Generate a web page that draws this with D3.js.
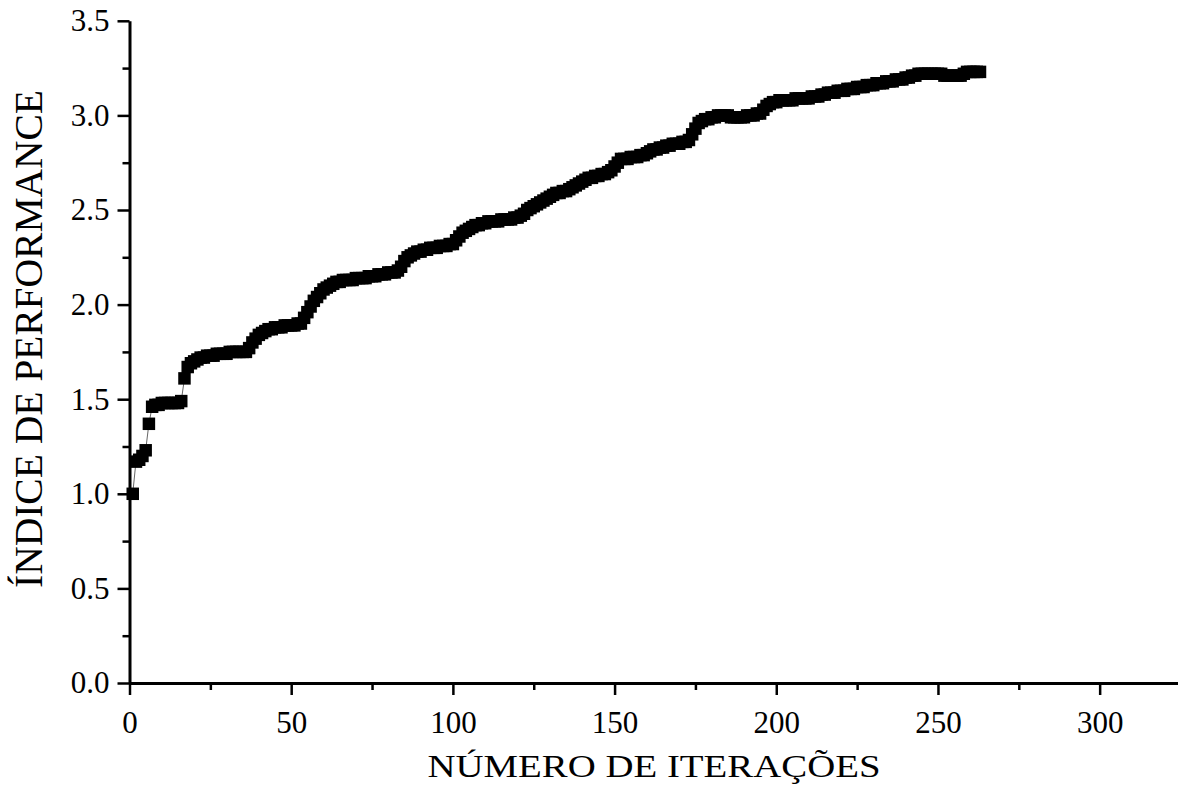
<!DOCTYPE html>
<html>
<head>
<meta charset="utf-8">
<script src="https://cdn.jsdelivr.net/npm/d3@7"></script>
<style>
  html, body { margin: 0; padding: 0; background: #fff; }
  svg text { font-family: "Liberation Serif", "Times New Roman", serif; fill: #000; }
</style>
</head>
<body>
<div id="viz"></div>
<script>
const w = 1178, h = 799;

// performance index, one value per iteration, starting at iteration 1
const performance = [
  1.00, 1.17, 1.18, 1.20, 1.23, 1.37, 1.46,
  1.47, 1.47, 1.48, 1.48, 1.48, 1.48, 1.48, 1.48, 1.49,
  1.61, 1.67, 1.69, 1.70, 1.71, 1.72,
  1.72, 1.73, 1.73, 1.73, 1.74, 1.74,
  1.74, 1.74, 1.75, 1.75, 1.75, 1.75, 1.75, 1.75,
  1.77, 1.80, 1.82, 1.84, 1.85, 1.86, 1.87, 1.87, 1.88,
  1.88, 1.88, 1.89, 1.89, 1.89, 1.89, 1.90,
  1.90, 1.93, 1.96, 1.99, 2.02, 2.04, 2.06, 2.08, 2.09, 2.10, 2.11, 2.12,
  2.12, 2.13, 2.13, 2.13, 2.13, 2.14, 2.14, 2.14, 2.14, 2.15, 2.15, 2.15, 2.16, 2.16, 2.16, 2.17, 2.17, 2.17, 2.18,
  2.20, 2.23, 2.25, 2.26, 2.27, 2.28,
  2.28, 2.29, 2.29, 2.30, 2.30, 2.30, 2.31, 2.31, 2.31, 2.32, 2.32,
  2.34, 2.36, 2.38, 2.39, 2.40, 2.41, 2.42, 2.42,
  2.43, 2.43, 2.44, 2.44, 2.44, 2.44, 2.45, 2.45, 2.45, 2.45, 2.46, 2.46,
  2.47, 2.48, 2.50, 2.51, 2.52, 2.53, 2.54, 2.55, 2.56, 2.57, 2.58, 2.59, 2.59, 2.60, 2.60, 2.61,
  2.62, 2.63, 2.64, 2.65, 2.66, 2.67, 2.67, 2.68, 2.68, 2.69, 2.69, 2.70, 2.71,
  2.73, 2.75, 2.77,
  2.77, 2.77, 2.78, 2.78, 2.78, 2.79, 2.79, 2.80, 2.81,
  2.82, 2.82, 2.83, 2.83, 2.84, 2.84, 2.85, 2.85, 2.85, 2.86, 2.86, 2.87,
  2.90, 2.93, 2.96, 2.97,
  2.98, 2.98, 2.99, 2.99, 3.00, 3.00, 3.00, 3.00, 2.99, 2.99, 2.99, 2.99, 2.99, 3.00, 3.00, 3.00, 3.01, 3.01,
  3.03, 3.05, 3.06, 3.07, 3.07, 3.08, 3.08,
  3.08, 3.08, 3.08, 3.09, 3.09, 3.09, 3.09, 3.09, 3.10, 3.10, 3.10, 3.11,
  3.11, 3.12, 3.12, 3.12, 3.13, 3.13, 3.13, 3.14, 3.14, 3.14, 3.15, 3.15, 3.15, 3.16,
  3.16, 3.16, 3.17, 3.17, 3.17, 3.18, 3.18, 3.18, 3.19, 3.19, 3.19, 3.20, 3.20,
  3.21, 3.21, 3.22, 3.22, 3.22, 3.22, 3.22, 3.22, 3.22, 3.22,
  3.21, 3.21, 3.21, 3.21, 3.21, 3.21,
  3.22, 3.23, 3.23, 3.23, 3.23, 3.23
];
const iteracoes = performance.map((v, k) => k + 1);

const xMajor = [0, 50, 100, 150, 200, 250, 300];
const xMinor = [25, 75, 125, 175, 225, 275, 325];
const yMajor = [0.0, 0.5, 1.0, 1.5, 2.0, 2.5, 3.0, 3.5];
const yMinor = [0.25, 0.75, 1.25, 1.75, 2.25, 2.75, 3.25];

const xTitle = 'NÚMERO DE ITERAÇÕES';
const yTitle = 'ÍNDICE DE PERFORMANCE';

const points = iteracoes.map((it, k) => ({ it: it, v: performance[k] }));

var svg = d3.select('#viz').append('svg')
  .attr('width', w)
  .attr('height', h);

var x = d3.scaleLinear().domain([0, 325]).range([129.5, 1180.5]);
var y = d3.scaleLinear().domain([0, 3.5]).range([683, 20.8]);

// thin connecting line
svg.append('path')
  .datum(points)
  .attr('fill', 'none')
  .attr('stroke', '#666')
  .attr('stroke-width', 1)
  .attr('d', d3.line().x(d => x(d.it)).y(d => y(d.v)));

// square markers
svg.selectAll('path.pt')
  .data(points)
  .enter()
  .append('path')
  .attr('class', 'pt')
  .attr('transform', d => 'translate(' + x(d.it) + ',' + y(d.v) + ')')
  .attr('d', d3.symbol().type(d3.symbolSquare).size(156))
  .attr('fill', '#000');

// x axis
svg.append('g')
  .attr('transform', 'translate(0,683)')
  .call(d3.axisBottom(x).tickValues(xMajor).tickFormat(d3.format('d')).tickSize(12).tickPadding(16).tickSizeOuter(0));
svg.append('g')
  .attr('transform', 'translate(0,683)')
  .call(d3.axisBottom(x).tickValues(xMinor).tickFormat('').tickSize(7).tickSizeOuter(0))
  .select('.domain').remove();

// y axis
svg.append('g')
  .attr('transform', 'translate(129.5,0)')
  .call(d3.axisLeft(y).tickValues(yMajor).tickFormat(d3.format('.1f')).tickSize(12).tickPadding(8).tickSizeOuter(0));
svg.append('g')
  .attr('transform', 'translate(129.5,0)')
  .call(d3.axisLeft(y).tickValues(yMinor).tickFormat('').tickSize(7).tickSizeOuter(0))
  .select('.domain').remove();

svg.selectAll('.domain').attr('stroke', '#000').attr('stroke-width', 3);
svg.selectAll('.tick line').attr('stroke', '#000').attr('stroke-width', 2.5);
svg.selectAll('.tick text')
  .attr('font-family', '"Liberation Serif", "Times New Roman", serif')
  .attr('font-size', 31)
  .attr('fill', '#000');

// axis titles
svg.append('text')
  .attr('x', 654)
  .attr('y', 777)
  .attr('text-anchor', 'middle')
  .attr('font-size', 31)
  .attr('textLength', 453)
  .attr('lengthAdjust', 'spacingAndGlyphs')
  .text(xTitle);

svg.append('text')
  .attr('transform', 'translate(42,339) rotate(-90)')
  .attr('text-anchor', 'middle')
  .attr('font-size', 40)
  .attr('textLength', 498)
  .attr('lengthAdjust', 'spacingAndGlyphs')
  .text(yTitle);
</script>
</body>
</html>
